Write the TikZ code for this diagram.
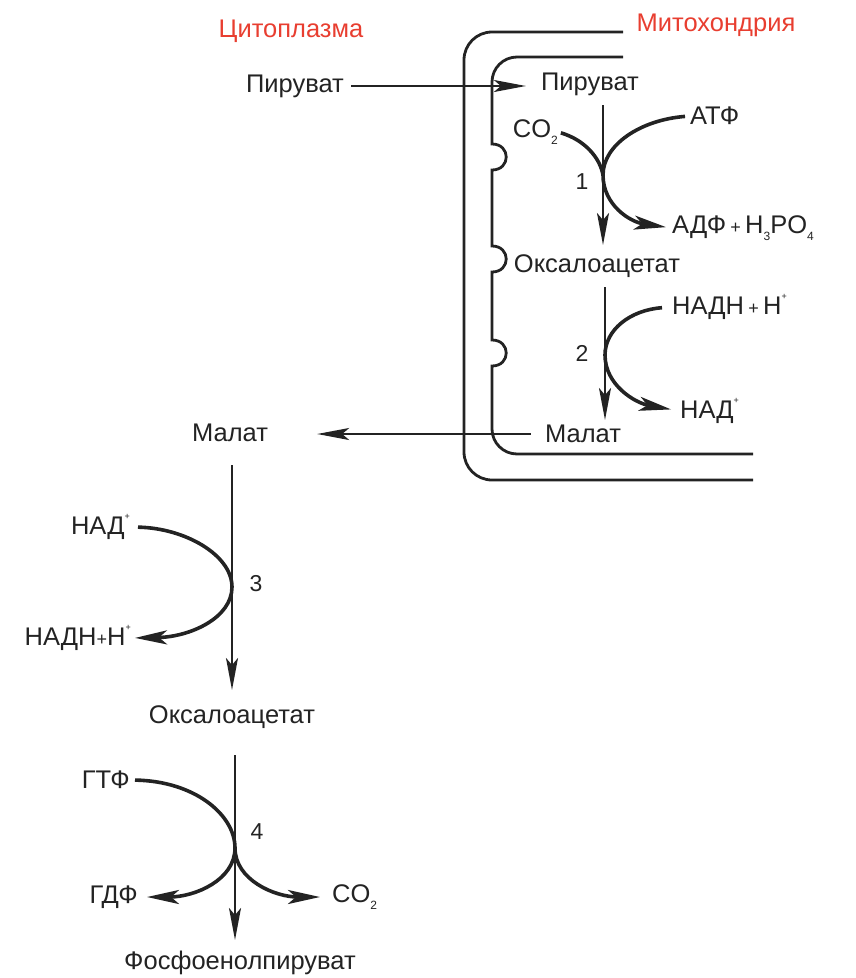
\documentclass[tikz,border=0pt]{standalone}
\usepackage{fontspec}
\setmainfont{Liberation Sans}
\usetikzlibrary{arrows.meta}
\definecolor{redlbl}{RGB}{232,62,48}
\definecolor{ink}{RGB}{35,35,35}
\newcommand\plusup{\raisebox{0.62em}{\fontsize{9}{9}\selectfont +}}
\newcommand\subnum[1]{\raisebox{-0.28em}{\fontsize{12}{12}\selectfont #1}}
\newcommand\smallplus{\,{\fontsize{18}{18}\selectfont +}\,}
\begin{document}
\begin{tikzpicture}[x=1pt,y=-1pt,
  lbl/.style={font=\fontsize{25.5}{28}\selectfont, text=ink, inner sep=0pt},
  numlbl/.style={font=\fontsize{23}{26}\selectfont, text=ink, inner sep=0pt},
  region/.style={font=\fontsize{25.5}{28}\selectfont, text=redlbl, inner sep=0pt},
  membrane/.style={draw=ink, line width=2.8pt},
  flow/.style={draw=ink, line width=2.4pt, -{Stealth[length=32pt,width=12pt,inset=7pt]}},
  cofactor/.style={draw=ink, line width=3.6pt},
  cofarrow/.style={cofactor, -{Stealth[length=32pt,width=14pt,inset=8pt]}}]
\useasboundingbox (0,0) rectangle (855,978);

% membranes
\draw[membrane, rounded corners=28] (623,32) -- (464,32) -- (464,480) -- (753,480);
\draw[membrane] (623,57) -- (517,57) .. controls (503.2,57) and (492,68.2) .. (492,82)
  -- (492,144) .. controls (511,144) and (511,170) .. (492,170)
  -- (492,246) .. controls (511,246) and (511,272) .. (492,272)
  -- (492,340) .. controls (511,340) and (511,366) .. (492,366)
  -- (492,429) .. controls (492,442.8) and (503.2,454) .. (517,454) -- (753,454);

% region labels
\node[region] (cyto) at (291,31) {Цитоплазма};
\node[region] (mito) at (716,25) {Митохондрия};

% mitochondrial labels
\node[lbl] (pyrc) at (295,86) {Пируват};
\node[lbl] (pyrm) at (590,84) {Пируват};
\node[lbl, anchor=east] (co2a) at (558,132) {CO\subnum{2}};
\node[lbl, anchor=west] (atp) at (690,116) {АТФ};
\node[lbl, anchor=west] (adp) at (672,228) {АДФ\smallplus H\subnum{3}PO\subnum{4}};
\node[numlbl] (n1) at (582,182) {1};
\node[lbl] (oxm) at (597,266) {Оксалоацетат};
\node[lbl, anchor=west] (nadh2) at (672,307) {НАДН\smallplus Н\plusup};
\node[numlbl] (n2) at (582,353) {2};
\node[lbl, anchor=west] (nad2) at (680,411) {НАД\plusup};
\node[lbl] (malm) at (583,434) {Малат};

% cytoplasmic labels
\node[lbl] (malc) at (230,433) {Малат};
\node[lbl, anchor=east] (nad3) at (130,527) {НАД\plusup};
\node[lbl, anchor=east] (nadh3) at (131,638) {НАДН{\fontsize{18}{18}\selectfont +}Н\plusup};
\node[numlbl] (n3) at (256,584) {3};
\node[lbl] (oxc) at (232,717) {Оксалоацетат};
\node[lbl, anchor=east] (gtp) at (130,780) {ГТФ};
\node[numlbl] (n4) at (257,832) {4};
\node[lbl, anchor=east] (gdp) at (138,897) {ГДФ};
\node[lbl, anchor=west] (co2b) at (332,897) {CO\subnum{2}};
\node[lbl] (pep) at (240,963) {Фосфоенолпируват};

% path coordinates
\coordinate (r1a) at (603,105); \coordinate (r1b) at (603,245);
\coordinate (r2a) at (605,287); \coordinate (r2b) at (605,420);
\coordinate (r3a) at (232,465); \coordinate (r3b) at (232,690);
\coordinate (r4a) at (235,755); \coordinate (r4b) at (235,940);
\coordinate (j1) at (603,175); \coordinate (j2) at (605,355);
\coordinate (j3) at (232,587); \coordinate (j4) at (235,848);

% transport arrows
\draw[flow, shorten <=7pt, shorten >=15pt] (pyrc.east) -- (pyrc.east -| pyrm.west);
\draw[flow, shorten <=14pt, shorten >=49pt] (malm.west) -- (malm.west -| malc.east);

% main pathway
\draw[flow] (r1a) -- (r1b);
\draw[flow] (r2a) -- (r2b);
\draw[flow] (r3a) -- (r3b);
\draw[flow] (r4a) -- (r4b);

% reaction 1
\draw[cofactor, shorten <=3pt] (co2a.east) .. controls (585,140) and (600,158) .. (j1);
\draw[cofarrow, shorten <=5pt, shorten >=6pt] (atp.west) .. controls (640,120) and (603,145) .. (j1)
  .. controls (603,205) and (630,222) .. (adp.west);
% reaction 2
\draw[cofarrow, shorten <=10pt, shorten >=9pt] (nadh2.west) .. controls (630,310) and (605,330) .. (j2)
  .. controls (605,385) and (635,403) .. (nad2.west);
% reaction 3
\draw[cofarrow, shorten <=8pt, shorten >=4pt] (nad3.east) .. controls (185,528) and (232,555) .. (j3)
  .. controls (232,618) and (190,637) .. (nadh3.east);
% reaction 4
\draw[cofarrow, shorten <=5pt, shorten >=12pt] (gtp.east) .. controls (195,781) and (235,815) .. (j4)
  .. controls (235,880) and (275,897) .. (co2b.west);
\draw[cofarrow, shorten >=9pt] (j4) .. controls (235,880) and (195,897) .. (gdp.east);
\end{tikzpicture}
\end{document}
